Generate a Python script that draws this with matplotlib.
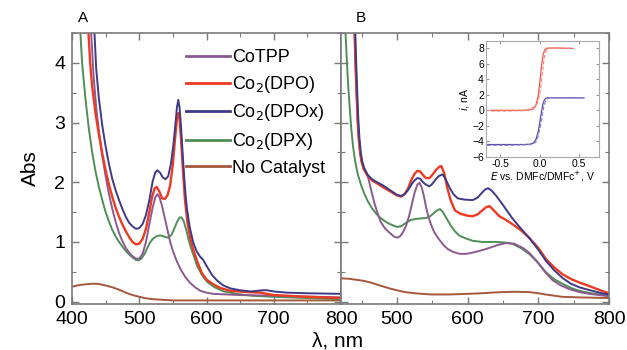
import matplotlib
matplotlib.use("Agg")
import matplotlib.pyplot as plt
from matplotlib.ticker import MultipleLocator

plt.rcParams['font.family'] = ['Liberation Sans', 'DejaVu Sans']

COLORS = {'CoTPP': '#8c5a90', 'DPO': '#ee3a22', 'DPOx': '#3f3a88',
          'DPX': '#4f8f56', 'None': '#a5583c'}
LABELS = ['CoTPP', 'Co$_2$(DPO)', 'Co$_2$(DPOx)', 'Co$_2$(DPX)', 'No Catalyst']

# ---- panel A (wavelength nm, Abs) ----
a_cotpp_wl = [428, 432, 436, 440, 445, 450, 455, 460, 465, 470, 475, 480, 485, 490, 495, 500,
              505, 510, 515, 520, 524, 527, 530, 534, 538, 542, 546, 550, 555, 561, 568, 575,
              583, 591, 600, 610, 650, 700, 800]
a_cotpp = [4.6, 3.8, 3.25, 2.85, 2.45, 2.1, 1.8, 1.55, 1.33, 1.15, 1.01, 0.9, 0.82, 0.76, 0.72, 0.72,
           0.8, 1.0, 1.3, 1.58, 1.75, 1.8, 1.75, 1.6, 1.4, 1.2, 1.0, 0.85, 0.7, 0.55, 0.42, 0.32,
           0.24, 0.18, 0.15, 0.13, 0.11, 0.1, 0.07]
a_dpo_wl = [424, 427, 430, 435, 440, 445, 450, 455, 460, 465, 470, 475, 480, 485, 490, 495, 500,
            505, 510, 515, 519, 523, 526, 530, 534, 538, 542, 546, 550, 553, 556, 558, 560, 562,
            565, 568, 572, 576, 580, 586, 593, 600, 610, 620, 636, 660, 680, 700, 750, 800]
a_dpo = [4.6, 4.0, 3.6, 3.15, 2.8, 2.48, 2.2, 1.96, 1.75, 1.57, 1.42, 1.29, 1.18, 1.08, 1.0, 0.96, 0.97,
         1.05, 1.22, 1.5, 1.75, 1.9, 1.92, 1.84, 1.73, 1.72, 1.78, 1.95, 2.3, 2.7, 3.05, 3.16, 3.05, 2.75,
         2.2, 1.7, 1.3, 1.05, 0.88, 0.68, 0.48, 0.37, 0.29, 0.23, 0.18, 0.16, 0.15, 0.11, 0.08, 0.06]
a_dpox_wl = [433, 436, 440, 445, 450, 455, 460, 465, 470, 475, 480, 485, 490, 495, 500, 505, 510,
             515, 520, 524, 527, 531, 535, 539, 543, 547, 551, 554, 556, 558, 560, 562, 565, 568,
             571, 575, 580, 585, 590, 595, 600, 608, 616, 625, 636, 650, 666, 675, 683, 690, 700,
             720, 750, 800]
a_dpox = [4.6, 3.9, 3.4, 2.95, 2.6, 2.3, 2.05, 1.86, 1.7, 1.55, 1.42, 1.32, 1.26, 1.22, 1.23, 1.3, 1.45,
          1.7, 2.02, 2.17, 2.2, 2.16, 2.08, 2.05, 2.1, 2.3, 2.65, 3.0, 3.25, 3.38, 3.25, 2.95, 2.4, 1.9,
          1.55, 1.25, 1.0, 0.85, 0.76, 0.7, 0.6, 0.45, 0.35, 0.27, 0.22, 0.19, 0.17, 0.18, 0.19, 0.19, 0.17,
          0.15, 0.14, 0.13]
a_dpx_wl = [412, 415, 420, 425, 430, 435, 440, 445, 450, 455, 460, 465, 470, 475, 480, 485, 490,
            495, 499, 503, 508, 512, 516, 520, 525, 531, 537, 543, 548, 552, 556, 560, 563, 566,
            570, 573, 577, 580, 586, 593, 601, 612, 626, 645, 666, 700, 800]
a_dpx = [4.6, 4.0, 3.4, 2.9, 2.5, 2.18, 1.92, 1.7, 1.5, 1.34, 1.2, 1.09, 1.0, 0.92, 0.85, 0.79, 0.74,
         0.7, 0.69, 0.72, 0.8, 0.9, 0.99, 1.05, 1.09, 1.11, 1.09, 1.07, 1.12, 1.22, 1.33, 1.41, 1.41, 1.35,
         1.2, 1.05, 0.9, 0.8, 0.6, 0.45, 0.33, 0.24, 0.17, 0.13, 0.1, 0.08, 0.04]
a_none_wl = [400, 410, 420, 431, 440, 450, 460, 470, 480, 490, 500, 510, 521, 535, 550, 600, 800]
a_none = [0.25, 0.275, 0.29, 0.3, 0.295, 0.27, 0.24, 0.2, 0.15, 0.11, 0.08, 0.055, 0.04, 0.03, 0.02,
          0.02, 0.02]

# ---- panel B ----
b_cotpp_wl = [440, 441.5, 443, 444.5, 446, 448, 450, 454, 459, 463, 468, 473, 477, 483, 490, 496,
              501, 505, 509, 513, 517, 521, 525, 529, 532, 535, 538, 541, 544, 548, 553, 558, 565,
              572, 580, 589, 598, 607, 620, 631, 643, 654, 666, 678, 687, 697, 708, 720, 732, 744,
              758, 772, 786, 800]
b_cotpp = [4.6, 4.0, 3.5, 3.05, 2.75, 2.5, 2.35, 2.22, 2.1, 1.9, 1.66, 1.47, 1.34, 1.23, 1.15, 1.09,
           1.07, 1.1, 1.17, 1.27, 1.42, 1.62, 1.82, 1.96, 1.99, 1.92, 1.78, 1.6, 1.45, 1.3, 1.16, 1.07,
           0.96, 0.88, 0.83, 0.8, 0.8, 0.82, 0.86, 0.9, 0.95, 0.98, 0.97, 0.9, 0.82, 0.69, 0.52, 0.36,
           0.27, 0.21, 0.16, 0.13, 0.11, 0.09]
b_dpo_wl = [440, 441.5, 443, 444.5, 446, 448, 450, 453, 459, 465, 472, 480, 490, 500, 506, 511,
            516, 521, 525, 529, 533, 537, 541, 546, 550, 555, 560, 563, 567, 571, 576, 582, 590,
            600, 607, 614, 620, 626, 631, 637, 645, 654, 663, 675, 687, 700, 711, 722, 734, 746,
            758, 770, 781, 790, 800]
b_dpo = [4.6, 4.0, 3.5, 3.05, 2.75, 2.5, 2.35, 2.22, 2.1, 2.03, 1.98, 1.92, 1.85, 1.78, 1.76, 1.8,
         1.9, 2.05, 2.14, 2.19, 2.18, 2.12, 2.07, 2.07, 2.12, 2.2, 2.26, 2.27, 2.15, 1.92, 1.7, 1.53,
         1.47, 1.44, 1.43, 1.46, 1.52, 1.58, 1.6, 1.53, 1.43, 1.37, 1.3, 1.2, 1.07, 0.9, 0.71, 0.58,
         0.46, 0.38, 0.32, 0.27, 0.22, 0.18, 0.14]
b_dpox_wl = [441, 442.5, 444, 445.5, 447, 449, 451, 454, 459, 465, 472, 480, 490, 500, 506, 511,
             516, 521, 525, 529, 533, 537, 541, 546, 550, 555, 560, 565, 569, 575, 580, 586, 595,
             607, 614, 620, 625, 629, 634, 640, 650, 663, 675, 687, 700, 711, 722, 734, 746, 758,
             770, 780, 790, 800]
b_dpox = [4.6, 4.0, 3.5, 3.05, 2.75, 2.5, 2.35, 2.23, 2.12, 2.05, 2.0, 1.95, 1.87, 1.79, 1.77, 1.8,
          1.87, 1.97, 2.03, 2.07, 2.06, 2.0, 1.96, 1.93, 1.97, 2.05, 2.11, 2.13, 2.05, 1.9, 1.8, 1.73,
          1.71, 1.7, 1.74, 1.82, 1.88, 1.9, 1.86, 1.78, 1.62, 1.4, 1.23, 1.07, 0.87, 0.68, 0.53, 0.4,
          0.3, 0.24, 0.2, 0.17, 0.14, 0.12]
b_dpx_wl = [427, 429, 431, 433, 435.5, 438, 441, 445, 450, 455, 459, 465, 471, 477, 484, 490, 496,
            501, 507, 513, 520, 530, 541, 547, 552, 557, 561, 565, 570, 576, 582, 588, 595, 607,
            620, 640, 653, 663, 675, 687, 699, 711, 722, 734, 746, 758, 775, 800]
b_dpx = [4.6, 4.1, 3.65, 3.3, 2.9, 2.6, 2.35, 2.12, 1.93, 1.78, 1.68, 1.56, 1.47, 1.4, 1.34, 1.3, 1.27,
         1.25, 1.27, 1.32, 1.37, 1.39, 1.4, 1.43, 1.48, 1.53, 1.55, 1.5, 1.4, 1.28, 1.18, 1.11, 1.07,
         1.02, 1.0, 1.0, 0.99, 0.97, 0.9, 0.8, 0.66, 0.49, 0.38, 0.3, 0.23, 0.18, 0.14, 0.1]
b_none_wl = [421, 430, 440, 452, 463, 476, 490, 500, 511, 525, 548, 575, 600, 620, 640, 665, 687,
             700, 710, 722, 734, 760, 800]
b_none = [0.39, 0.385, 0.37, 0.35, 0.32, 0.27, 0.22, 0.19, 0.16, 0.14, 0.12, 0.12, 0.13, 0.14, 0.155,
          0.165, 0.16, 0.14, 0.12, 0.1, 0.08, 0.07, 0.06]

# ---- inset (E in V, i in nA) ----
inset_e_red = [-0.62, -0.4, -0.2, -0.12, -0.08, -0.05, -0.02, 0.0, 0.02, 0.04, 0.06, 0.08, 0.1, 0.2, 0.42]
inset_i_red = [0.0, 0.0, 0.0, 0.05, 0.2, 0.6, 1.8, 3.5, 5.5, 7.0, 7.7, 7.9, 8.0, 8.0, 7.95]
inset_e_red2 = [-0.62, -0.4, -0.2, -0.12, -0.06, -0.03, 0.0, 0.02, 0.04, 0.06, 0.08, 0.1, 0.12, 0.2, 0.42]
inset_i_red2 = [-0.1, -0.1, -0.05, 0.2, 0.5, 0.9, 2.0, 3.6, 5.4, 6.9, 7.6, 7.85, 7.95, 8.0, 7.95]
inset_e_blue = [-0.67, -0.4, -0.2, -0.12, -0.08, -0.05, -0.02, 0.0, 0.02, 0.04, 0.06, 0.08, 0.1, 0.2, 0.56]
inset_i_blue = [-4.4, -4.4, -4.4, -4.35, -4.2, -3.8, -2.8, -1.6, -0.3, 0.8, 1.35, 1.55, 1.6, 1.6, 1.6]
inset_e_blue2 = [-0.67, -0.4, -0.2, -0.1, -0.05, -0.02, 0.01, 0.03, 0.05, 0.07, 0.09, 0.12, 0.2, 0.56]
inset_i_blue2 = [-4.5, -4.5, -4.45, -4.4, -4.1, -3.4, -2.0, -0.8, 0.4, 1.1, 1.45, 1.58, 1.6, 1.6]

FRAME = '#7a7a7a'

fig = plt.figure(figsize=(6.27, 3.5), dpi=100)
axA = fig.add_axes([72 / 627, 1 - 304 / 350, 269 / 627, 271 / 350])
axB = fig.add_axes([341 / 627, 1 - 304 / 350, 268 / 627, 271 / 350])


def style_main(ax):
    ax.set_ylim(-0.04, 4.5)
    ax.yaxis.set_major_locator(MultipleLocator(1))
    ax.yaxis.set_minor_locator(MultipleLocator(0.5))
    ax.xaxis.set_major_locator(MultipleLocator(100))
    ax.xaxis.set_minor_locator(MultipleLocator(50))
    ax.tick_params(which='both', direction='in', top=True, right=True,
                   labelsize=14, color=FRAME, pad=5)
    ax.tick_params(which='major', length=5, width=1)
    ax.tick_params(which='minor', length=3, width=0.8)
    for s in ax.spines.values():
        s.set_color(FRAME)
        s.set_linewidth(1.2)


lw = 1.4
# panel A
axA.plot(a_none_wl, a_none, color=COLORS['None'], lw=lw)
axA.plot(a_dpx_wl, a_dpx, color=COLORS['DPX'], lw=lw)
axA.plot(a_cotpp_wl, a_cotpp, color=COLORS['CoTPP'], lw=lw)
axA.plot(a_dpo_wl, a_dpo, color=COLORS['DPO'], lw=lw + 0.3)
axA.plot(a_dpox_wl, a_dpox, color=COLORS['DPOx'], lw=lw)
axA.set_xlim(400, 800)
style_main(axA)
axA.set_ylabel('Abs', fontsize=15, labelpad=10)

handles = [plt.Line2D([], [], color=COLORS[k], lw=2) for k in ['CoTPP', 'DPO', 'DPOx', 'DPX', 'None']]
axA.legend(handles, LABELS, loc='upper left', bbox_to_anchor=(0.425, 0.94), frameon=False,
           fontsize=13, handlelength=2.4, handletextpad=0.15, labelspacing=0.42,
           borderpad=0, borderaxespad=0)

# panel B
axB.plot(b_none_wl, b_none, color=COLORS['None'], lw=lw)
axB.plot(b_dpx_wl, b_dpx, color=COLORS['DPX'], lw=lw)
axB.plot(b_cotpp_wl, b_cotpp, color=COLORS['CoTPP'], lw=lw)
axB.plot(b_dpo_wl, b_dpo, color=COLORS['DPO'], lw=lw + 0.3)
axB.plot(b_dpox_wl, b_dpox, color=COLORS['DPOx'], lw=lw)
axB.set_xlim(421, 800)
style_main(axB)
axB.set_xticks([500, 600, 700, 800])
axB.tick_params(labelleft=False)

fig.text(78 / 627, 1 - 18 / 350, 'A', fontsize=11, va='center', ha='left')
fig.text(356 / 627, 1 - 18 / 350, 'B', fontsize=11, va='center', ha='left')
fig.text(338 / 627, 1 - 341 / 350, 'λ, nm', fontsize=15, va='center', ha='center')

# inset
axI = fig.add_axes([486 / 627, 1 - 157 / 350, 113 / 627, 116 / 350])
axI.plot(inset_e_red, inset_i_red, color='#f05a4a', lw=0.9)
axI.plot(inset_e_red2, inset_i_red2, color='#f08a80', lw=0.8, ls='--')
axI.plot(inset_e_blue, inset_i_blue, color='#5a4aa8', lw=0.9)
axI.plot(inset_e_blue2, inset_i_blue2, color='#8a80c8', lw=0.8, ls='--')
axI.set_xlim(-0.68, 0.75)
axI.set_ylim(-6, 8.9)
axI.set_xticks([-0.5, 0.0, 0.5])
axI.set_xticklabels(['-0.5', '0.0', '0.5'])
axI.set_yticks([-6, -4, -2, 0, 2, 4, 6, 8])
axI.tick_params(direction='in', labelsize=7.5, length=2, pad=1.5, color='#999999',
                top=True, right=True)
for s in axI.spines.values():
    s.set_color('#aaaaaa')
    s.set_linewidth(0.8)
axI.set_ylabel('$i$, nA', fontsize=7.5, labelpad=1)
axI.set_xlabel('$E$ vs. DMFc/DMFc$^{+}$, V', fontsize=7.5, labelpad=0.5)

fig.savefig('out.png', dpi=100)
